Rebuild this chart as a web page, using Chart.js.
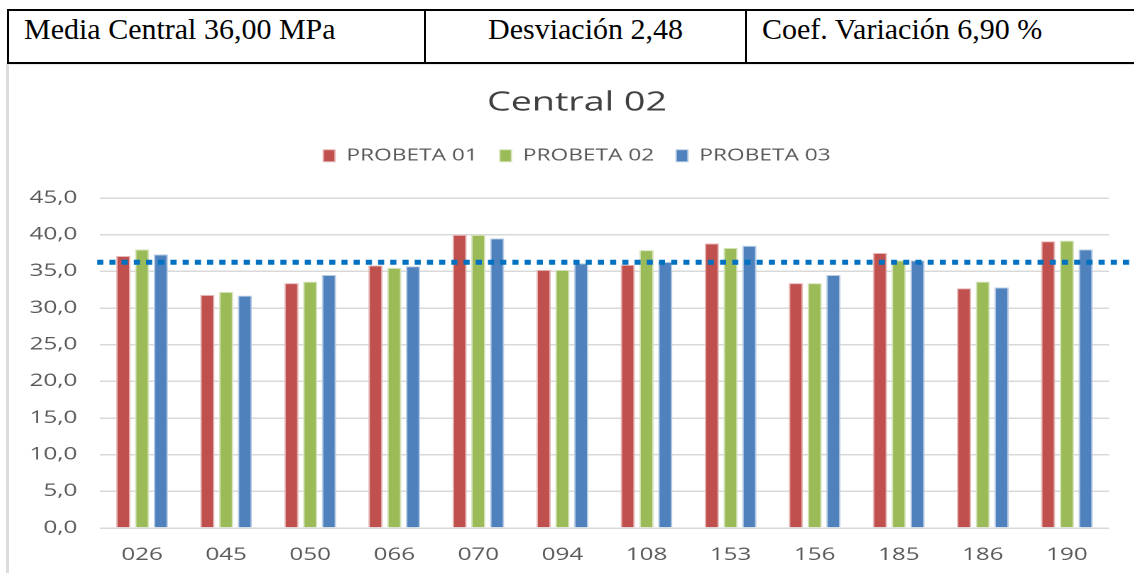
<!DOCTYPE html>
<html>
<head>
<meta charset="utf-8">
<script src="https://cdn.jsdelivr.net/npm/chart.js@4.4.0/dist/chart.umd.min.js"></script>
<style>
  body { margin: 0; width: 1134px; height: 573px; overflow: hidden; background: #fff; position: relative; }
  #tbl { position: absolute; left: 7px; top: 9px; width: 1140px; height: 51px; border: 2px solid #000; border-right: none; box-sizing: content-box; }
  .cell { position: absolute; top: 3px; line-height: 30px; font-family: "Liberation Serif", serif; font-size: 30px; color: #000; white-space: nowrap; }
  .div { position: absolute; top: 0; width: 2px; height: 51px; background: #000; }
  #frame { position: absolute; left: 6px; top: 63px; width: 1140px; height: 520px; border-left: 3px solid #dcdcdc; border-top: 2px solid #e8e8e8; }
  /* the source picture is stretched sideways, so the chart is too */
  #wrap { position: absolute; left: 9px; top: 65px; width: 800px; height: 508px; transform: scaleX(1.42); transform-origin: 0 0; }
</style>
</head>
<body>
<div id="frame"></div>
<div id="tbl">
  <div class="cell" style="left:15px">Media Central 36,00 MPa</div>
  <div class="div" style="left:415px"></div>
  <div class="cell" style="left:417px;width:319px;text-align:center">Desviación 2,48</div>
  <div class="div" style="left:736px"></div>
  <div class="cell" style="left:753px">Coef. Variación 6,90 %</div>
</div>
<div id="wrap"><canvas id="myChart"></canvas></div>
<script>
const categories = ['026', '045', '050', '066', '070', '094', '108', '153', '156', '185', '186', '190'];
const probeta01 = [37.1, 31.8, 33.4, 35.8, 40.0, 35.2, 35.9, 38.8, 33.4, 37.5, 32.7, 39.1];
const probeta02 = [38.0, 32.2, 33.6, 35.5, 40.0, 35.2, 37.9, 38.2, 33.4, 36.5, 33.6, 39.2];
const probeta03 = [37.3, 31.7, 34.5, 35.7, 39.5, 36.1, 36.3, 38.5, 34.5, 36.5, 32.8, 38.0];
const mediaLinea = 36.25;

// dotted mean line, runs to the right edge
const meanLine = {
  id: 'meanLine',
  afterDatasetsDraw(chart) {
    const ctx = chart.ctx;
    const y = chart.scales.y.getPixelForValue(mediaLinea);
    ctx.save();
    ctx.strokeStyle = '#0070C0';
    ctx.lineWidth = 5;
    ctx.setLineDash([4.3, 4.3]);
    ctx.beginPath();
    ctx.moveTo(chart.chartArea.left - 2, y);
    ctx.lineTo(chart.width, y);
    ctx.stroke();
    ctx.restore();
  }
};

const data = {
  labels: categories,
  datasets: [
    { label: 'PROBETA 01', data: probeta01, backgroundColor: '#C0504D', borderColor: '#e6b9b8', borderWidth: 1 },
    { label: 'PROBETA 02', data: probeta02, backgroundColor: '#9BBB59', borderColor: '#d7e4bd', borderWidth: 1 },
    { label: 'PROBETA 03', data: probeta03, backgroundColor: '#4F81BD', borderColor: '#b9cde5', borderWidth: 1 },
  ]
};

const config = {
  type: 'bar',
  data: data,
  options: {
    responsive: true,
    maintainAspectRatio: false,
    animation: false,
    devicePixelRatio: 2,
    categoryPercentage: 0.67,
    barPercentage: 0.76,
    layout: { padding: 0 },
    plugins: {
      title: {
        display: true,
        text: 'Central 02',
        color: '#404040',
        font: { family: 'Open Sans', size: 26.5, weight: 'normal' },
        padding: { top: 22, bottom: 13.6 }
      },
      legend: {
        labels: {
          color: '#595959',
          font: { family: 'Open Sans', size: 16 },
          boxWidth: 8.3,
          boxHeight: 12,
          padding: 15.4
        }
      },
      tooltip: { enabled: false }
    },
    scales: {
      x: {
        grid: { display: false, drawTicks: false },
        border: { display: false },
        ticks: { color: '#595959', font: { family: 'Open Sans', size: 17 }, padding: 17 },
        afterFit: (s) => { s.height = 45; }
      },
      gap: {
        type: 'category',
        axis: 'x',
        position: 'top',
        grid: { display: false, drawTicks: false },
        border: { display: false },
        ticks: { display: false },
        afterFit: (s) => { s.height = 24.25; }
      },
      y: {
        min: 0,
        max: 45,
        ticks: {
          stepSize: 5,
          color: '#595959',
          font: { family: 'Open Sans', size: 17 },
          padding: 16,
          callback: (v) => v.toFixed(1).replace('.', ',')
        },
        grid: { color: '#d9d9d9', lineWidth: 1.5, drawTicks: false },
        border: { display: false },
        afterFit: (s) => { s.width = 64.1; }
      },
      yRight: {
        type: 'linear',
        axis: 'y',
        position: 'right',
        grid: { display: false, drawTicks: false },
        border: { display: false },
        ticks: { display: false },
        afterFit: (s) => { s.width = 25.4; }
      }
    }
  },
  plugins: [meanLine]
};

const myChart = new Chart(document.getElementById('myChart'), config);
</script>
</body>
</html>
